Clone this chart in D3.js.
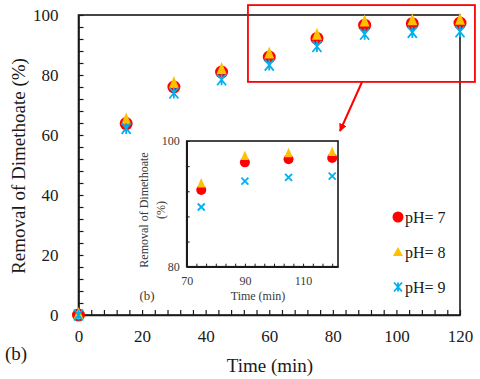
<!DOCTYPE html>
<html>
<head>
<meta charset="utf-8">
<script src="https://cdn.jsdelivr.net/npm/d3@7"></script>
<style>
  body { margin: 0; background: #fff; }
  svg, svg text { font-family: "Times New Roman", "Liberation Serif", Tinos, serif; }
</style>
</head>
<body>
<script>
// data
var time = [0, 15, 30, 45, 60, 75, 90, 105, 120];
var ph7 = [0, 63.8, 76, 81, 86, 92.2, 96.6, 97.1, 97.3];
var ph8 = [0, 64.8, 77, 81.7, 86.8, 93.1, 97.5, 97.9, 98.1];
var ph9 = [0, 62.2, 74, 78.4, 83.3, 89.5, 93.6, 94.2, 94.4];
var seriesNames = ["pH= 7", "pH= 8", "pH= 9"];
var insetTimes = [75, 90, 105, 120];
// zoom window drawn on the main chart
var zoomTime = [53.3, 124.7];
var zoomRemoval = [77.7, 103.3];

var W = 480, H = 379;
var margin = {top: 15, right: 20, bottom: 64, left: 78.5},
    width = 460 - margin.left,
    height = 315 - margin.top;

var svg = d3.select("body").append("svg")
    .attr("width", W).attr("height", H);

var g = svg.append("g")
    .attr("transform", "translate(" + margin.left + "," + margin.top + ")");

var x = d3.scaleLinear().domain([0, 120]).range([0, width]);
var y = d3.scaleLinear().domain([0, 100]).range([height, 0]);

var ink = "#1a1a1a";
var serif = "'Times New Roman', 'Liberation Serif', Tinos, serif";

// frame
g.append("rect").attr("width", width).attr("height", height)
    .attr("fill", "none").attr("stroke", ink).attr("stroke-width", 1.6);

var xAxis = g.append("g").attr("transform", "translate(0," + height + ")")
    .call(d3.axisBottom(x).tickValues(d3.range(0, 121, 4))
        .tickSizeInner(-5).tickSizeOuter(0).tickPadding(15)
        .tickFormat(function(d){ return d % 20 === 0 ? d : ""; }));
var yAxis = g.append("g")
    .call(d3.axisLeft(y).tickValues(d3.range(0, 101, 4))
        .tickSizeInner(-5).tickSizeOuter(0).tickPadding(20)
        .tickFormat(function(d){ return d % 20 === 0 ? d : ""; }));
[xAxis, yAxis].forEach(function(a){
    a.attr("font-family", null).attr("font-size", null);
    a.select(".domain").attr("stroke", ink).attr("stroke-width", 1.6);
    a.selectAll(".tick line").attr("stroke", ink).attr("stroke-width", 1.2);
    a.selectAll("text").attr("fill", ink).style("font-size", "17px")
        .style("font-family", serif);
});

// axis titles
svg.append("text").attr("x", 270).attr("y", 372)
    .attr("text-anchor", "middle").attr("fill", ink)
    .style("font-size", "19px").text("Time (min)");
svg.append("text")
    .attr("transform", "translate(25,166) rotate(-90)")
    .attr("text-anchor", "middle").attr("fill", ink)
    .style("font-size", "19px").text("Removal of Dimethoate (%)");
svg.append("text").attr("x", 5).attr("y", 360).attr("fill", ink)
    .style("font-size", "19px").text("(b)");

var red = "#ff0000", gold = "#ffc000", blue = "#00b0f0";

function triPath(w, h) {
    return "M0," + (-h * 2 / 3) + "L" + (w / 2) + "," + (h / 3) + "L" + (-w / 2) + "," + (h / 3) + "Z";
}
function starPath(w, h, vert) {
    var p = "M" + (-w / 2) + "," + (-h / 2) + "L" + (w / 2) + "," + (h / 2) +
            "M" + (w / 2) + "," + (-h / 2) + "L" + (-w / 2) + "," + (h / 2);
    if (vert) p += "M0," + (-h / 2) + "L0," + (h / 2);
    return p;
}

function drawMarkers(sel, xs, ys, idx, m) {
    var pts = idx.map(function(i){ return {t: time[i], a: ph7[i], b: ph8[i], c: ph9[i]}; });
    sel.selectAll(null).data(pts).enter().append("circle")
        .attr("cx", function(d){ return xs(d.t); })
        .attr("cy", function(d){ return ys(d.a); })
        .attr("r", m.r).attr("fill", red);
    sel.selectAll(null).data(pts).enter().append("path")
        .attr("transform", function(d){ return "translate(" + xs(d.t) + "," + ys(d.b) + ")"; })
        .attr("d", triPath(m.tw, m.th))
        .attr("fill", gold);
    sel.selectAll(null).data(pts).enter().append("path")
        .attr("transform", function(d){ return "translate(" + xs(d.t) + "," + ys(d.c) + ")"; })
        .attr("d", starPath(m.sw, m.sh, m.vert))
        .attr("fill", "none").attr("stroke", blue).attr("stroke-width", 1.8);
}

drawMarkers(g, x, y, d3.range(time.length), {r: 6.5, tw: 10, th: 12, sw: 9, sh: 11, vert: true});

// zoom window + arrow
g.append("rect")
    .attr("x", x(zoomTime[0])).attr("y", y(zoomRemoval[1]))
    .attr("width", x(zoomTime[1]) - x(zoomTime[0]))
    .attr("height", y(zoomRemoval[0]) - y(zoomRemoval[1]))
    .attr("fill", "none").attr("stroke", red).attr("stroke-width", 1.8);

svg.append("defs").append("marker")
    .attr("id", "arr").attr("viewBox", "0 0 10 10")
    .attr("refX", 9).attr("refY", 5)
    .attr("markerWidth", 4).attr("markerHeight", 4)
    .attr("orient", "auto")
  .append("path").attr("d", "M0,0L10,5L0,10z").attr("fill", red);
svg.append("line")
    .attr("x1", 362).attr("y1", 82).attr("x2", 340).attr("y2", 131)
    .attr("stroke", red).attr("stroke-width", 2)
    .attr("marker-end", "url(#arr)");

// inset
var ix0 = 186.7, iy0 = 141, iw = 151.3, ih = 125.7;
var ins = svg.append("g").attr("transform", "translate(" + ix0 + "," + iy0 + ")");
var xi = d3.scaleLinear().domain([70, 122]).range([0, iw]);
var yi = d3.scaleLinear().domain([80, 100]).range([ih, 0]);
var grey = "#3a3a3a";

ins.append("rect").attr("width", iw).attr("height", ih)
    .attr("fill", "#fff").attr("stroke", ink).attr("stroke-width", 1.6);

var xiAxis = ins.append("g").attr("transform", "translate(0," + ih + ")")
    .call(d3.axisBottom(xi).tickValues(d3.range(0, 16).map(function(k){ return 70 + k * 20 / 6; }))
        .tickSizeInner(-3).tickSizeOuter(0).tickPadding(10)
        .tickFormat(function(d){ var v = Math.round(d); return (Math.abs(d - v) < 0.01 && (v - 70) % 20 === 0 && v < 120) ? v : ""; }));
var yiAxis = ins.append("g")
    .call(d3.axisLeft(yi).tickValues(d3.range(80, 101, 4))
        .tickSizeInner(-3).tickSizeOuter(0).tickPadding(7)
        .tickFormat(function(d){ return (d === 80 || d === 100) ? d : ""; }));
[xiAxis, yiAxis].forEach(function(a){
    a.attr("font-family", null).attr("font-size", null);
    a.select(".domain").attr("stroke", ink).attr("stroke-width", 1.6);
    a.selectAll(".tick line").attr("stroke", ink).attr("stroke-width", 1);
    a.selectAll("text").attr("fill", grey).style("font-size", "12px")
        .style("font-family", serif);
});

var insetIdx = insetTimes.map(function(t){ return time.indexOf(t); });
drawMarkers(ins, xi, yi, insetIdx, {r: 5, tw: 8, th: 9.5, sw: 7, sh: 7, vert: false});

svg.append("text").attr("x", 258).attr("y", 300)
    .attr("text-anchor", "middle").attr("fill", grey)
    .style("font-size", "12px").text("Time (min)");
svg.append("text").attr("x", 147).attr("y", 300)
    .attr("text-anchor", "middle").attr("fill", grey)
    .style("font-size", "13px").text("(b)");
svg.append("text")
    .attr("transform", "translate(148,210) rotate(-90)")
    .attr("text-anchor", "middle").attr("fill", grey)
    .style("font-size", "12px").text("Removal of  Dimethoate");
svg.append("text")
    .attr("transform", "translate(165,210) rotate(-90)")
    .attr("text-anchor", "middle").attr("fill", grey)
    .style("font-size", "12px").text("(%)");

// legend
var legY = [217, 252, 287];
var leg = svg.append("g");
seriesNames.forEach(function(name, i){
    var lg = leg.append("g").attr("transform", "translate(398," + legY[i] + ")");
    if (i === 0) lg.append("circle").attr("r", 5.5).attr("fill", red);
    if (i === 1) lg.append("path").attr("d", triPath(10, 9)).attr("transform", "translate(0,1)").attr("fill", gold);
    if (i === 2) lg.append("path").attr("d", starPath(8, 9, true))
        .attr("fill", "none").attr("stroke", blue).attr("stroke-width", 1.8);
    lg.append("text").attr("x", 7).attr("y", 6).attr("fill", ink)
        .style("font-size", "16px").text(name);
});
</script>
</body>
</html>
